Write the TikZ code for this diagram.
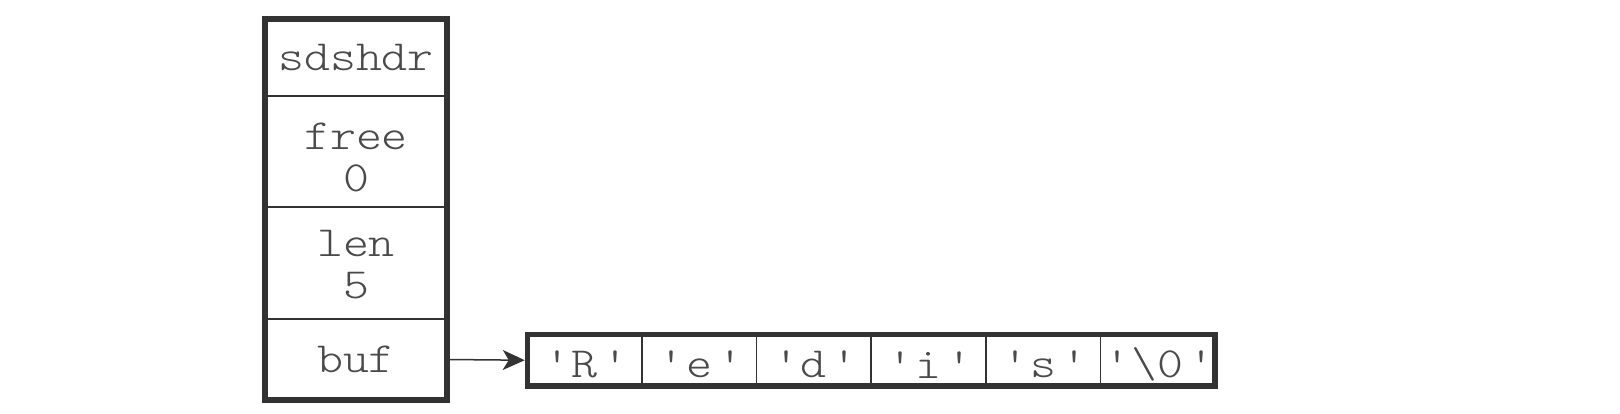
\documentclass[tikz,border=0pt]{standalone}
\usepackage{fontspec}
\newfontfamily\cf[FakeStretch=1.15]{Latin Modern Mono Light}
\usetikzlibrary{arrows.meta}
\newcommand\qc[1]{\textquotesingle\hspace{5pt}#1\hspace{5pt}\textquotesingle}
\definecolor{linec}{HTML}{333333}
\definecolor{textc}{HTML}{4a4a4a}
\begin{document}
\begin{tikzpicture}[x=1pt,y=1pt,
  cell/.style={draw=linec, line width=1.5pt, inner sep=0pt, outer sep=0pt, anchor=north west},
  hcell/.style={cell, minimum width=182pt},
  acell/.style={cell, minimum width=114.58pt, minimum height=51.5pt},
  txt/.style={inner sep=0pt, font=\cf\fontsize{43}{42}\selectfont, text=textc, align=center},
  outer/.style={draw=linec, line width=5.5pt},
  arr/.style={draw=linec, line width=1.5pt, -{Stealth[length=22pt,width=20pt,inset=6pt]}, shorten >=2.75pt}]
\useasboundingbox[fill=white] (0,0) rectangle (1620,-414);
% header struct
\node[hcell, minimum height=77pt]  (hdr)  at (265,-19)  {};
\node[hcell, minimum height=111pt] (free) at (265,-96)  {};
\node[hcell, minimum height=112pt] (len)  at (265,-207) {};
\node[hcell, minimum height=81pt]  (buf)  at (265,-319) {};
\draw[outer] (hdr.north west) rectangle (buf.south east);
\node[txt] (hdrt)  at (hdr.center) {sdshdr};
\node[txt] (freet) at ([yshift=-6pt]free.center) {free\\0};
\node[txt] (lent)  at ([yshift=-2pt]len.center) {len\\5};
\node[txt] (buft)  at (buf.center) {buf};
% buffer array
\node[acell] (c1) at (527.5,-334.5) {};
\node[acell] (c2) at (c1.north east) {};
\node[acell] (c3) at (c2.north east) {};
\node[acell] (c4) at (c3.north east) {};
\node[acell] (c5) at (c4.north east) {};
\node[acell] (c6) at (c5.north east) {};
\draw[outer] (c1.north west) rectangle (c6.south east);
\node[txt] (t1) at ([yshift=-4.5pt]c1.center) {\qc{R}};
\node[txt] (t2) at ([yshift=-4.5pt]c2.center) {\qc{e}};
\node[txt] (t3) at ([yshift=-4.5pt]c3.center) {\qc{d}};
\node[txt] (t4) at ([yshift=-4.5pt]c4.center) {\qc{i}};
\node[txt] (t5) at ([yshift=-4.5pt]c5.center) {\qc{s}};
\node[txt] (t6) at ([yshift=-4.5pt]c6.center) {\qc{\textbackslash 0}};
% pointer
\draw[arr] (buf.east) -- (c1.west);
\end{tikzpicture}
\end{document}
